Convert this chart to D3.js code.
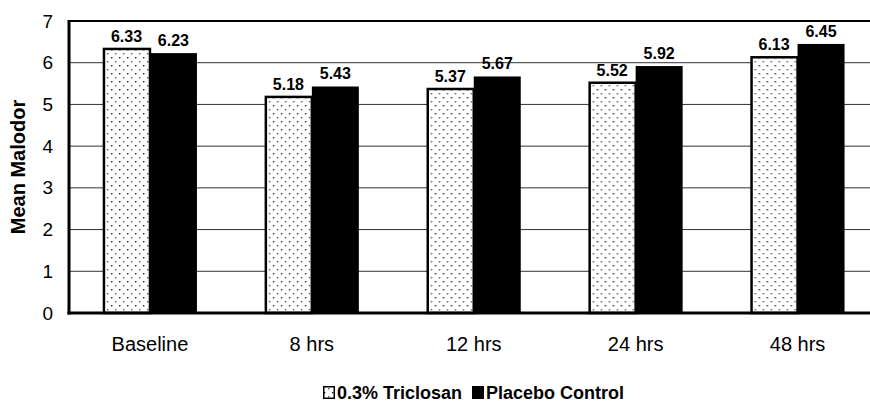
<!DOCTYPE html>
<html>
<head>
<meta charset="utf-8">
<script src="https://cdn.jsdelivr.net/npm/d3@7"></script>
<style>
  html, body { margin: 0; padding: 0; background: #fff; }
  svg { display: block; font-family: Arial, "Liberation Sans", sans-serif; }
</style>
</head>
<body>
<svg id="chart" width="870" height="402"></svg>
<script>
// Mean malodor scores by time point
const categories = ["Baseline", "8 hrs", "12 hrs", "24 hrs", "48 hrs"];
const seriesNames = ["0.3% Triclosan", "Placebo Control"];
const triclosan = [6.33, 5.18, 5.37, 5.52, 6.13];
const placebo = [6.23, 5.43, 5.67, 5.92, 6.45];
const yTicks = [0, 1, 2, 3, 4, 5, 6, 7];

const svg = d3.select("#chart");
const W = 870, H = 402;
const FONT = "Arial, 'Liberation Sans', sans-serif";
const plot = { left: 69, top: 21, bottom: 313, right: 69 + 5 * 161.9 };

const x = d3.scaleBand().domain(categories).range([plot.left, plot.right]).padding(0);
const y = d3.scaleLinear().domain([0, 7]).range([plot.bottom, plot.top]);
const barW = 47;

// Dotted fill for the triclosan bars
const defs = svg.append("defs");
const pat = defs.append("pattern")
  .attr("id", "dots").attr("patternUnits", "userSpaceOnUse")
  .attr("width", 8).attr("height", 8);
pat.append("rect").attr("width", 8).attr("height", 8).attr("fill", "#fff");
pat.append("rect").attr("x", 1).attr("y", 1).attr("width", 1.4).attr("height", 1.4).attr("fill", "#222");
pat.append("rect").attr("x", 5).attr("y", 5).attr("width", 1.4).attr("height", 1.4).attr("fill", "#555");

// Horizontal grid lines
svg.append("g").selectAll("line")
  .data(yTicks.filter(d => d > 0 && d < 7))
  .join("line")
  .attr("x1", plot.left).attr("x2", W)
  .attr("y1", d => y(d)).attr("y2", d => y(d))
  .attr("stroke", "#333").attr("stroke-width", 1);

// Top frame line
svg.append("line")
  .attr("x1", plot.left).attr("x2", W)
  .attr("y1", y(7)).attr("y2", y(7))
  .attr("stroke", "#000").attr("stroke-width", 2);

// Bars
const groups = svg.append("g").selectAll("g")
  .data(categories)
  .join("g")
  .attr("transform", d => `translate(${x(d) + x.bandwidth() / 2},0)`);

groups.append("rect")
  .attr("x", -barW + 1)
  .attr("y", (d, i) => y(triclosan[i]))
  .attr("width", barW - 1)
  .attr("height", (d, i) => y(0) - y(triclosan[i]))
  .attr("fill", "url(#dots)")
  .attr("stroke", "#000").attr("stroke-width", 2.5);

groups.append("rect")
  .attr("x", 0)
  .attr("y", (d, i) => y(placebo[i]))
  .attr("width", barW)
  .attr("height", (d, i) => y(0) - y(placebo[i]))
  .attr("fill", "#000");

// Value labels
groups.append("text")
  .attr("x", -barW / 2)
  .attr("y", (d, i) => y(triclosan[i]) - 7)
  .attr("text-anchor", "middle")
  .attr("font-size", 16).attr("font-weight", "bold")
  .text((d, i) => triclosan[i].toFixed(2));

groups.append("text")
  .attr("x", barW / 2)
  .attr("y", (d, i) => y(placebo[i]) - 7)
  .attr("text-anchor", "middle")
  .attr("font-size", 16).attr("font-weight", "bold")
  .text((d, i) => placebo[i].toFixed(2));

// Y axis
const yAxis = svg.append("g")
  .attr("transform", `translate(${plot.left},0)`)
  .call(d3.axisLeft(y).tickValues(yTicks).tickSize(0).tickPadding(16).tickFormat(d3.format("d")));
yAxis.select(".domain").remove();
yAxis.selectAll("text").attr("font-size", 19).attr("fill", "#000").attr("font-family", FONT);
svg.append("line")
  .attr("x1", plot.left).attr("x2", plot.left)
  .attr("y1", plot.top - 1).attr("y2", plot.bottom + 1.5)
  .attr("stroke", "#000").attr("stroke-width", 3);

// X axis
const xAxis = svg.append("g")
  .attr("transform", `translate(0,${plot.bottom})`)
  .call(d3.axisBottom(x).tickSize(0).tickPadding(24));
xAxis.select(".domain").remove();
xAxis.selectAll("text").attr("font-size", 20).attr("fill", "#000").attr("font-family", FONT);
svg.append("line")
  .attr("x1", plot.left - 1.5).attr("x2", W)
  .attr("y1", plot.bottom).attr("y2", plot.bottom)
  .attr("stroke", "#000").attr("stroke-width", 3);

// Y axis title
svg.append("text")
  .attr("transform", `translate(25,${(plot.top + plot.bottom) / 2}) rotate(-90)`)
  .attr("text-anchor", "middle")
  .attr("font-size", 20).attr("font-weight", "bold")
  .text("Mean Malodor");

// Legend
const legend = svg.append("g").attr("transform", "translate(323,399)");
const items = [
  { name: seriesNames[0], fill: "url(#dots)", stroke: "#000", x: 0 },
  { name: seriesNames[1], fill: "#000", stroke: "#000", x: 149 }
];
const li = legend.selectAll("g").data(items).join("g")
  .attr("transform", d => `translate(${d.x},0)`);
li.append("rect")
  .attr("x", 0.75).attr("y", -12.25).attr("width", 10.5).attr("height", 11.5)
  .attr("fill", d => d.fill).attr("stroke", d => d.stroke).attr("stroke-width", 1.5);
li.append("text")
  .attr("x", 14).attr("y", 0)
  .attr("font-size", 18).attr("font-weight", "bold")
  .text(d => d.name);
</script>
</body>
</html>
